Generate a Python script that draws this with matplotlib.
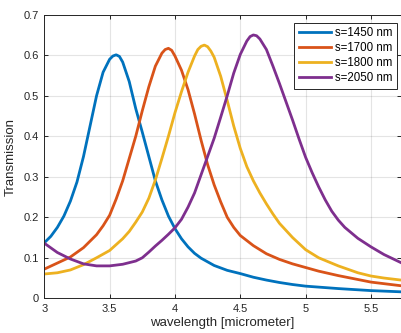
import numpy as np
import matplotlib
matplotlib.use('Agg')
import matplotlib.pyplot as plt

plt.rcParams['font.family'] = ['Liberation Sans', 'DejaVu Sans']

# wavelength [micrometer] and transmission
wl_1450 = [3.0, 3.05, 3.1, 3.15, 3.2, 3.25, 3.3, 3.35, 3.4, 3.45, 3.5, 3.525, 3.55, 3.575,
           3.6, 3.65, 3.7, 3.75, 3.8, 3.85, 3.9, 3.95, 4.0, 4.05, 4.1, 4.15, 4.2, 4.3,
           4.4, 4.5, 4.6, 4.7, 4.8, 4.9, 5.0, 5.25, 5.5, 5.73]
tr_1450 = [0.137, 0.153, 0.175, 0.203, 0.24, 0.287, 0.35, 0.425, 0.5, 0.558, 0.59, 0.598,
           0.601, 0.597, 0.583, 0.535, 0.468, 0.41, 0.35, 0.29, 0.243, 0.203, 0.172,
           0.147, 0.127, 0.111, 0.099, 0.081, 0.069, 0.061, 0.052, 0.045, 0.039, 0.034,
           0.03, 0.024, 0.019, 0.016]

wl_1700 = [3.0, 3.1, 3.2, 3.3, 3.4, 3.45, 3.5, 3.55, 3.6, 3.65, 3.7, 3.75, 3.8, 3.85,
           3.9, 3.925, 3.95, 3.975, 4.0, 4.05, 4.1, 4.15, 4.2, 4.25, 4.3, 4.35, 4.4,
           4.45, 4.5, 4.6, 4.7, 4.8, 4.9, 5.0, 5.1, 5.25, 5.5, 5.73]
tr_1700 = [0.072, 0.087, 0.102, 0.125, 0.157, 0.179, 0.205, 0.245, 0.29, 0.345, 0.4,
           0.463, 0.522, 0.573, 0.605, 0.614, 0.617, 0.612, 0.598, 0.563, 0.515, 0.455,
           0.39, 0.33, 0.28, 0.238, 0.2, 0.175, 0.155, 0.13, 0.11, 0.096, 0.085, 0.076,
           0.067, 0.056, 0.04, 0.031]

wl_1800 = [3.0, 3.1, 3.2, 3.3, 3.4, 3.5, 3.6, 3.65, 3.7, 3.75, 3.8, 3.85, 3.9, 3.95,
           4.0, 4.05, 4.1, 4.15, 4.175, 4.2, 4.225, 4.25, 4.275, 4.3, 4.35, 4.4, 4.45,
           4.5, 4.55, 4.6, 4.65, 4.7, 4.75, 4.8, 4.9, 5.0, 5.1, 5.25, 5.4, 5.5, 5.6, 5.73]
tr_1800 = [0.06, 0.063, 0.07, 0.083, 0.1, 0.118, 0.147, 0.165, 0.188, 0.213, 0.247,
           0.292, 0.345, 0.4, 0.458, 0.51, 0.558, 0.598, 0.614, 0.622, 0.625, 0.621,
           0.61, 0.595, 0.548, 0.488, 0.425, 0.37, 0.325, 0.29, 0.26, 0.233, 0.208,
           0.185, 0.15, 0.12, 0.1, 0.08, 0.063, 0.055, 0.05, 0.045]

wl_2050 = [3.0, 3.1, 3.2, 3.3, 3.4, 3.5, 3.6, 3.7, 3.75, 3.8, 3.85, 3.9, 3.95, 4.0,
           4.05, 4.1, 4.15, 4.2, 4.25, 4.3, 4.35, 4.4, 4.45, 4.5, 4.55, 4.575, 4.6,
           4.625, 4.65, 4.7, 4.75, 4.8, 4.85, 4.9, 4.95, 5.0, 5.05, 5.1, 5.15, 5.2, 5.25,
           5.3, 5.4, 5.5, 5.6, 5.73]
tr_2050 = [0.136, 0.113, 0.097, 0.085, 0.08, 0.08, 0.084, 0.092, 0.1, 0.114, 0.129,
           0.143, 0.158, 0.174, 0.195, 0.225, 0.26, 0.305, 0.35, 0.395, 0.447, 0.5, 0.556,
           0.602, 0.635, 0.646, 0.65, 0.648, 0.64, 0.614, 0.573, 0.53, 0.485, 0.44,
           0.393, 0.348, 0.31, 0.275, 0.243, 0.215, 0.193, 0.175, 0.148, 0.127, 0.108,
           0.088]

labels = ['s=1450 nm', 's=1700 nm', 's=1800 nm', 's=2050 nm']
colors = ['#0072BD', '#D95319', '#EDB120', '#7E2F8E']

fig = plt.figure(figsize=(4.01, 3.33), dpi=100)
ax = fig.add_axes([44.3 / 401, 34.7 / 333, 1 - 44.3 / 401, 283.6 / 333])

series = [(wl_1450, tr_1450), (wl_1700, tr_1700), (wl_1800, tr_1800), (wl_2050, tr_2050)]
for (x, y), lab, c in zip(series, labels, colors):
    ax.plot(x, y, color=c, lw=2, label=lab, solid_joinstyle='round')

ax.set_xlim(3, 5.73)
ax.set_ylim(0, 0.7)
ax.set_xticks([3, 3.5, 4, 4.5, 5, 5.5])
ax.set_xticklabels(['3', '3.5', '4', '4.5', '5', '5.5'])
ax.set_yticks(np.arange(0, 0.71, 0.1))
ax.set_yticklabels(['0', '0.1', '0.2', '0.3', '0.4', '0.5', '0.6', '0.7'])

ax.grid(True, color='#262626', alpha=0.12, lw=0.8)
ax.tick_params(direction='in', length=3, width=0.7, top=True, right=True,
               labelsize=8, colors='#262626', pad=4)
for sp in ax.spines.values():
    sp.set_color('#262626')
    sp.set_linewidth(0.7)

ax.set_xlabel('wavelength [micrometer]', fontsize=9.5, color='#262626', labelpad=2)
ax.set_ylabel('Transmission', fontsize=9.5, color='#262626', labelpad=5)

leg = ax.legend(loc='upper right', bbox_to_anchor=(396.7 / 401, 1 - 22.7 / 333),
                bbox_transform=fig.transFigure, borderaxespad=0, fontsize=8.3,
                fancybox=False, framealpha=1, edgecolor='#262626',
                handlelength=2.8, handletextpad=0.3, labelspacing=0.25,
                borderpad=0.4)
leg.get_frame().set_linewidth(0.7)

fig.savefig('out.png', dpi=100)
